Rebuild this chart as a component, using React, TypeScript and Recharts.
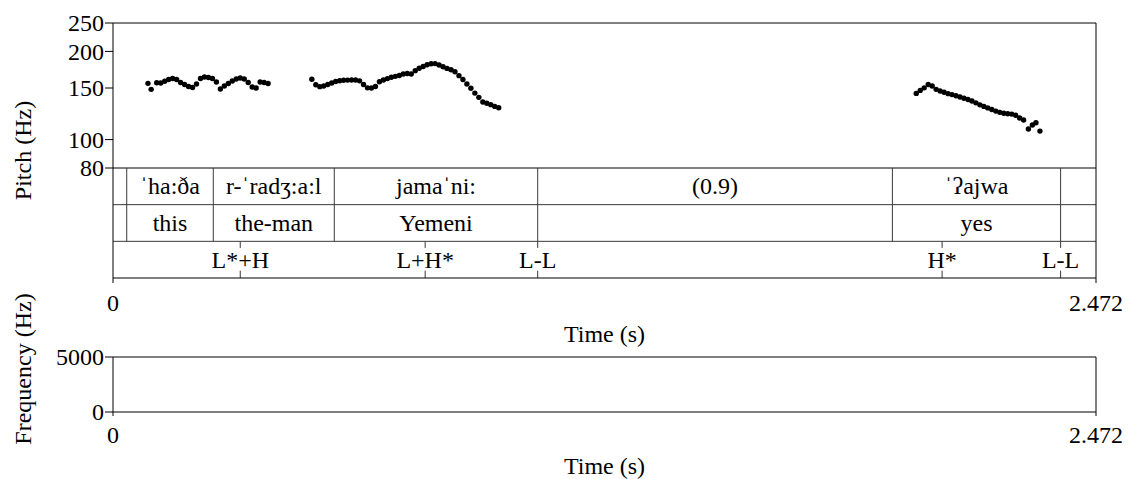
import React from 'react';
import { ScatterChart, Scatter, XAxis, YAxis, ReferenceLine } from 'recharts';

const FONT = '"Liberation Serif", "Times New Roman", "DejaVu Serif", serif';
const FS = 24;
const txtStyle: React.CSSProperties = { fontFamily: FONT, fontSize: FS };

// Pitch contour segments: [time (s), pitch (Hz)]
const pitchSeg1: [number, number][] = [
  [0.088, 155.6], [0.096, 148.4], [0.11, 156.4], [0.12, 156.0], [0.13, 158.1], [0.14, 160.4],
  [0.15, 161.7], [0.16, 160.4], [0.17, 156.6], [0.18, 154.1], [0.19, 151.7], [0.2, 150.6],
  [0.21, 154.8], [0.22, 161.7], [0.23, 163.5], [0.24, 162.9], [0.25, 161.7], [0.26, 157.2],
  [0.27, 148.8], [0.28, 152.3], [0.29, 155.4], [0.3, 158.5], [0.31, 161.0], [0.32, 162.3],
  [0.33, 161.0], [0.34, 156.6], [0.35, 151.2], [0.36, 150.0], [0.37, 157.2], [0.38, 156.6],
  [0.39, 155.4],
];

const pitchSeg2: [number, number][] = [
  [0.5, 160.6], [0.51, 153.9], [0.52, 151.6], [0.53, 152.3], [0.54, 154.1], [0.55, 156.0],
  [0.56, 157.8], [0.57, 158.8], [0.58, 159.4], [0.59, 159.6], [0.6, 159.8], [0.61, 159.8],
  [0.62, 158.7], [0.63, 154.1], [0.64, 150.2], [0.65, 150.0], [0.66, 151.7], [0.67, 157.5],
  [0.68, 159.8], [0.69, 161.5], [0.7, 163.3], [0.71, 164.4], [0.72, 165.5], [0.73, 167.4],
  [0.74, 168.2], [0.75, 167.4], [0.76, 171.9], [0.77, 175.2], [0.78, 177.6], [0.79, 180.0],
  [0.8, 181.4], [0.81, 181.7], [0.82, 179.7], [0.83, 177.3], [0.84, 175.0], [0.85, 173.1],
  [0.86, 170.5], [0.87, 165.3], [0.88, 160.4], [0.89, 154.8], [0.9, 149.7], [0.91, 144.1],
  [0.92, 139.4], [0.93, 134.4], [0.94, 133.0], [0.95, 131.6], [0.96, 129.8], [0.97, 128.4],
];

const pitchSeg3: [number, number][] = [
  [2.02, 143.8], [2.03, 147.2], [2.04, 150.2], [2.05, 154.1], [2.06, 152.3], [2.07, 148.4],
  [2.08, 146.5], [2.09, 145.0], [2.1, 143.5], [2.11, 142.4], [2.12, 141.1], [2.13, 139.7],
  [2.14, 138.4], [2.15, 137.1], [2.16, 135.4], [2.17, 133.5], [2.18, 131.4], [2.19, 129.8],
  [2.2, 128.3], [2.21, 126.7], [2.22, 125.1], [2.23, 123.9], [2.24, 123.0], [2.25, 122.5],
  [2.26, 122.2], [2.27, 121.1], [2.28, 118.5], [2.29, 116.6], [2.302, 108.7], [2.312, 112.1],
  [2.321, 114.2], [2.331, 106.9],
];

const TOTAL = 2.472;
const pitchTicks = [80, 100, 150, 200, 250];
const timeTicks = [0, TOTAL];
const freqTicks = [0, 5000];
const freqMax = 5000;

// TextGrid
const intervalBounds = [0.0345, 0.2522, 0.5565, 1.068, 1.96, 2.383];
const wordLabels = ['ˈha:ða', 'r-ˈradʒ:a:l', 'jamaˈni:', '(0.9)', 'ˈʔajwa'];
const glossLabels = ['this', 'the-man', 'Yemeni', '', 'yes'];
const toneTimes = [0.32, 0.785, 1.068, 2.085, 2.383];
const toneLabels = ['L*+H', 'L+H*', 'L-L', 'H*', 'L-L'];

const toPts = (seg: [number, number][]) => seg.map(([t, hz]) => ({ t, hz }));

const mids = (labels: string[], row: number) =>
  labels.map((label, i) => ({ t: (intervalBounds[i] + intervalBounds[i + 1]) / 2, y: row, label }));

const wordData = mids(wordLabels, 2.5);
const glossData = mids(glossLabels, 1.5);
const toneData = toneTimes.map((t, i) => ({ t, y: 0.5, label: toneLabels[i] }));
// empty spectrogram: only the frame extent (invisible)
const spectroExtent = [{ t: 0, f: 0 }, { t: TOTAL, f: freqMax }];

const Dot = (p: any) => (p.cx == null ? null : <circle cx={p.cx} cy={p.cy} r={2.7} fill="#000" />);
const Hidden = () => null;

const TierText = (p: any) =>
  p.cx == null || !p.payload.label ? null : (
    <text x={p.cx} y={p.cy} dy="0.34em" textAnchor="middle" fontFamily={FONT} fontSize={FS} style={txtStyle} fill="#000">
      {p.payload.label}
    </text>
  );

const YTick = (p: any) => (
  <text x={p.x} y={p.y} dy="0.34em" textAnchor="end" fontFamily={FONT} fontSize={FS} style={txtStyle} fill="#000">
    {p.payload.value}
  </text>
);

const XTick = (p: any) => (
  <text x={p.x} y={p.y} dy="0.71em" textAnchor="middle" fontFamily={FONT} fontSize={FS} style={txtStyle} fill="#000">
    {p.payload.value}
  </text>
);

const vLabel = (text: string, cy: number) => () => (
  <text
    x={22.5}
    y={cy}
    dy="0.34em"
    transform={`rotate(-90, 22.5, ${cy})`}
    textAnchor="middle"
    fontFamily={FONT}
    fontSize={FS}
    style={txtStyle}
    fill="#000"
  >
    {text}
  </text>
);

const hLabel = (text: string, cy: number) => () => (
  <text x={604.5} y={cy} dy="0.34em" textAnchor="middle" fontFamily={FONT} fontSize={FS} style={txtStyle} fill="#000">
    {text}
  </text>
);

const layer: React.CSSProperties = { position: 'absolute', left: 0, top: 0 };
const TIER_STROKE = '#3a3a3a';

export default function App() {
  return (
    <div style={{ position: 'absolute', left: 0, top: 0, width: 1138, height: 479, background: '#fff', overflow: 'hidden' }}>
      {/* Pitch panel */}
      <div style={layer}>
        <ScatterChart width={1138} height={479} margin={{ top: 23, right: 42, bottom: 311, left: 0 }}>
          <XAxis type="number" dataKey="t" domain={[0, TOTAL]} hide allowDataOverflow />
          <YAxis
            type="number"
            dataKey="hz"
            scale="log"
            domain={[80, 250]}
            ticks={pitchTicks}
            interval={0}
            allowDataOverflow
            width={113}
            tickSize={8}
            tickMargin={1}
            tick={<YTick />}
            axisLine={{ stroke: '#000' }}
            tickLine={{ stroke: '#000' }}
            label={vLabel('Pitch (Hz)', 150.5)}
          />
          <ReferenceLine y={250} stroke="#000" />
          <ReferenceLine x={TOTAL} stroke="#000" />
          <Scatter data={toPts(pitchSeg1)} shape={Dot} isAnimationActive={false} />
          <Scatter data={toPts(pitchSeg2)} shape={Dot} isAnimationActive={false} />
          <Scatter data={toPts(pitchSeg3)} shape={Dot} isAnimationActive={false} />
        </ScatterChart>
      </div>

      {/* TextGrid tiers */}
      <div style={layer}>
        <ScatterChart width={1138} height={479} margin={{ top: 168, right: 42, bottom: 121, left: 0 }}>
          <XAxis
            type="number"
            dataKey="t"
            domain={[0, TOTAL]}
            ticks={timeTicks}
            interval={0}
            allowDataOverflow
            height={80}
            tickSize={5}
            tickMargin={11}
            tick={<XTick />}
            axisLine={{ stroke: '#000' }}
            tickLine={{ stroke: '#000' }}
            label={hLabel('Time (s)', 334)}
          />
          <YAxis type="number" dataKey="y" domain={[0, 3]} allowDataOverflow width={113} tick={false} tickLine={false} axisLine={{ stroke: '#000' }} />
          <ReferenceLine y={3} stroke="#000" />
          <ReferenceLine y={2} stroke={TIER_STROKE} />
          <ReferenceLine y={1} stroke={TIER_STROKE} />
          <ReferenceLine x={TOTAL} stroke="#000" />
          {intervalBounds.map((b, i) => (
            <ReferenceLine key={'b' + i} segment={[{ x: b, y: 1 }, { x: b, y: 3 }]} stroke={TIER_STROKE} />
          ))}
          {toneTimes.map((t, i) => (
            <ReferenceLine key={'tt' + i} segment={[{ x: t, y: 0.82 }, { x: t, y: 1 }]} stroke={TIER_STROKE} />
          ))}
          {toneTimes.map((t, i) => (
            <ReferenceLine key={'tb' + i} segment={[{ x: t, y: 0 }, { x: t, y: 0.2 }]} stroke={TIER_STROKE} />
          ))}
          <Scatter data={wordData} dataKey="y" shape={TierText} isAnimationActive={false} />
          <Scatter data={glossData} dataKey="y" shape={TierText} isAnimationActive={false} />
          <Scatter data={toneData} dataKey="y" shape={TierText} isAnimationActive={false} />
        </ScatterChart>
      </div>

      {/* Spectrogram panel (empty) */}
      <div style={layer}>
        <ScatterChart width={1138} height={479} margin={{ top: 357, right: 42, bottom: 0, left: 0 }}>
          <XAxis
            type="number"
            dataKey="t"
            domain={[0, TOTAL]}
            ticks={timeTicks}
            interval={0}
            allowDataOverflow
            height={67}
            tickSize={4}
            tickMargin={10}
            tick={<XTick />}
            axisLine={{ stroke: '#000' }}
            tickLine={{ stroke: '#000' }}
            label={hLabel('Time (s)', 466)}
          />
          <YAxis
            type="number"
            dataKey="f"
            domain={[0, freqMax]}
            ticks={freqTicks}
            interval={0}
            allowDataOverflow
            width={113}
            tickSize={8}
            tickMargin={1}
            tick={<YTick />}
            axisLine={{ stroke: '#000' }}
            tickLine={{ stroke: '#000' }}
            label={vLabel('Frequency (Hz)', 369)}
          />
          <ReferenceLine y={freqMax} stroke="#000" />
          <ReferenceLine x={TOTAL} stroke="#000" />
          <Scatter data={spectroExtent} shape={Hidden} isAnimationActive={false} />
        </ScatterChart>
      </div>
    </div>
  );
}
